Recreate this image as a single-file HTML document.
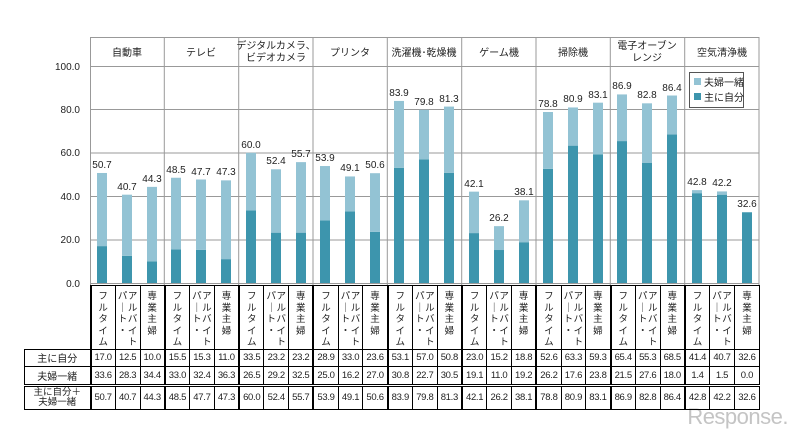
<!DOCTYPE html>
<html><head><meta charset="utf-8"><style>
body{margin:0;width:800px;height:437px;background:#fff;position:relative;overflow:hidden;font-family:"Liberation Sans","Noto Sans CJK JP",sans-serif;color:#222}
svg{position:absolute;left:0;top:0}
svg text{font-family:"Liberation Sans","Noto Sans CJK JP",sans-serif}
table{position:absolute;left:24px;top:285px;border-collapse:collapse;table-layout:fixed;width:736px;font-size:9.5px}
td{border:1px solid #000;text-align:center;padding:0;letter-spacing:-0.3px}
td.e{border:none}
tr.hd td{height:60px;vertical-align:top}
tr.r1 td{height:16px}
tr.r2 td{height:17px}
tr.r3 td{height:22px;border-top:3px double #000;line-height:10px}
td.g{border-left:2px solid #000}
.v{display:inline-block;vertical-align:top;font-size:9.5px;line-height:11.5px;margin-top:5px;width:10px;text-align:center;letter-spacing:0}
td.l{font-size:10px;letter-spacing:0}
tr.r3 td.l{font-size:9.5px}
</style></head><body>
<svg width="800" height="437">
<g stroke="#999" stroke-width="1">
<line x1="90" y1="66.5" x2="759" y2="66.5"/>
<line x1="90" y1="109.5" x2="759" y2="109.5"/>
<line x1="90" y1="153" x2="759" y2="153"/>
<line x1="90" y1="196.5" x2="759" y2="196.5"/>
<line x1="90" y1="240" x2="759" y2="240"/>
<line x1="90" y1="37.5" x2="759" y2="37.5"/>
<line x1="90" y1="283.5" x2="759" y2="283.5"/>
<line x1="90.5" y1="37" x2="90.5" y2="285"/>
<line x1="759" y1="37" x2="759" y2="285"/>
<line x1="164.3" y1="37" x2="164.3" y2="285"/>
<line x1="238.7" y1="37" x2="238.7" y2="285"/>
<line x1="313" y1="37" x2="313" y2="285"/>
<line x1="387.3" y1="37" x2="387.3" y2="285"/>
<line x1="461.7" y1="37" x2="461.7" y2="285"/>
<line x1="536" y1="37" x2="536" y2="285"/>
<line x1="610.3" y1="37" x2="610.3" y2="285"/>
<line x1="684.7" y1="37" x2="684.7" y2="285"/>
</g>
<g font-size="10" text-anchor="end" fill="#222">
<text x="80" y="70">100.0</text><text x="80" y="113">80.0</text><text x="80" y="156">60.0</text>
<text x="80" y="200">40.0</text><text x="80" y="243">20.0</text><text x="80" y="287">0.0</text>
</g>
<g font-size="10" text-anchor="middle" fill="#222">
<text x="127" y="56">自動車</text>
<text x="201" y="56">テレビ</text>
<text x="276" y="49">デジタルカメラ、</text><text x="276" y="61">ビデオカメラ</text>
<text x="350" y="56">プリンタ</text>
<text x="424" y="56">洗濯機･乾燥機</text>
<text x="499" y="56">ゲーム機</text>
<text x="573" y="56">掃除機</text>
<text x="647" y="49">電子オーブン</text><text x="647" y="61">レンジ</text>
<text x="722" y="56">空気清浄機</text>
</g>
<g transform="translate(0,283) scale(1,-2.17)">
<g fill="#3d95ad">
<rect x="97" y="0" width="10" height="17.0"/><rect x="122" y="0" width="10" height="12.5"/><rect x="147" y="0" width="10" height="10.0"/>
<rect x="171" y="0" width="10" height="15.5"/><rect x="196" y="0" width="10" height="15.3"/><rect x="221" y="0" width="10" height="11.0"/>
<rect x="246" y="0" width="10" height="33.5"/><rect x="271" y="0" width="10" height="23.2"/><rect x="296" y="0" width="10" height="23.2"/>
<rect x="320" y="0" width="10" height="28.9"/><rect x="345" y="0" width="10" height="33.0"/><rect x="370" y="0" width="10" height="23.6"/>
<rect x="394" y="0" width="10" height="53.1"/><rect x="419" y="0" width="10" height="57.0"/><rect x="444" y="0" width="10" height="50.8"/>
<rect x="469" y="0" width="10" height="23.0"/><rect x="494" y="0" width="10" height="15.2"/><rect x="519" y="0" width="10" height="18.8"/>
<rect x="543" y="0" width="10" height="52.6"/><rect x="568" y="0" width="10" height="63.3"/><rect x="593" y="0" width="10" height="59.3"/>
<rect x="617" y="0" width="10" height="65.4"/><rect x="642" y="0" width="10" height="55.3"/><rect x="667" y="0" width="10" height="68.5"/>
<rect x="692" y="0" width="10" height="41.4"/><rect x="717" y="0" width="10" height="40.7"/><rect x="742" y="0" width="10" height="32.6"/>
</g>
<g fill="#93c3d4">
<rect x="97" y="17.0" width="10" height="33.7"/><rect x="122" y="12.5" width="10" height="28.2"/><rect x="147" y="10.0" width="10" height="34.3"/>
<rect x="171" y="15.5" width="10" height="33.0"/><rect x="196" y="15.3" width="10" height="32.4"/><rect x="221" y="11.0" width="10" height="36.3"/>
<rect x="246" y="33.5" width="10" height="26.5"/><rect x="271" y="23.2" width="10" height="29.2"/><rect x="296" y="23.2" width="10" height="32.5"/>
<rect x="320" y="28.9" width="10" height="25.0"/><rect x="345" y="33.0" width="10" height="16.1"/><rect x="370" y="23.6" width="10" height="27.0"/>
<rect x="394" y="53.1" width="10" height="30.8"/><rect x="419" y="57.0" width="10" height="22.8"/><rect x="444" y="50.8" width="10" height="30.5"/>
<rect x="469" y="23.0" width="10" height="19.1"/><rect x="494" y="15.2" width="10" height="11.0"/><rect x="519" y="18.8" width="10" height="19.3"/>
<rect x="543" y="52.6" width="10" height="26.2"/><rect x="568" y="63.3" width="10" height="17.6"/><rect x="593" y="59.3" width="10" height="23.8"/>
<rect x="617" y="65.4" width="10" height="21.5"/><rect x="642" y="55.3" width="10" height="27.5"/><rect x="667" y="68.5" width="10" height="17.9"/>
<rect x="692" y="41.4" width="10" height="1.4"/><rect x="717" y="40.7" width="10" height="1.5"/>
</g>
</g>
<g font-size="10" text-anchor="middle" fill="#222">
<text x="102" y="168">50.7</text><text x="127" y="190">40.7</text><text x="152" y="182">44.3</text>
<text x="176" y="173">48.5</text><text x="201" y="175">47.7</text><text x="226" y="175">47.3</text>
<text x="251" y="148">60.0</text><text x="276" y="164">52.4</text><text x="301" y="157">55.7</text>
<text x="325" y="161">53.9</text><text x="350" y="171">49.1</text><text x="375" y="168">50.6</text>
<text x="399" y="96">83.9</text><text x="424" y="105">79.8</text><text x="449" y="102">81.3</text>
<text x="474" y="187">42.1</text><text x="499" y="221">26.2</text><text x="524" y="195">38.1</text>
<text x="548" y="107">78.8</text><text x="573" y="102">80.9</text><text x="598" y="98">83.1</text>
<text x="622" y="89">86.9</text><text x="647" y="98">82.8</text><text x="672" y="91">86.4</text>
<text x="697" y="185">42.8</text><text x="722" y="186">42.2</text><text x="747" y="207">32.6</text>
</g>
<rect x="689.5" y="72.5" width="54" height="35" fill="#fff" stroke="#555" stroke-width="1"/>
<rect x="694" y="78" width="7" height="7" fill="#93c3d4"/>
<rect x="694" y="93" width="7" height="7" fill="#3d95ad"/>
<text x="704" y="86" font-size="10" fill="#222">夫婦一緒</text>
<text x="704" y="101" font-size="10" fill="#222">主に自分</text>
<text x="788" y="424" font-size="22" fill="#c4c4c4" text-anchor="end" letter-spacing="-0.5">Response.</text>
</svg>
<table>
<colgroup><col style="width:66px"><col span="27"></colgroup>
<tr class="hd"><td class="e"></td>
<td class="g"><span class="v">フ<br>ル<br>タ<br>イ<br>ム</span></td><td><span class="v">パ<br>｜<br>ト<br>・</span><span class="v">ア<br>ル<br>バ<br>イ<br>ト</span></td><td><span class="v">専<br>業<br>主<br>婦</span></td>
<td class="g"><span class="v">フ<br>ル<br>タ<br>イ<br>ム</span></td><td><span class="v">パ<br>｜<br>ト<br>・</span><span class="v">ア<br>ル<br>バ<br>イ<br>ト</span></td><td><span class="v">専<br>業<br>主<br>婦</span></td>
<td class="g"><span class="v">フ<br>ル<br>タ<br>イ<br>ム</span></td><td><span class="v">パ<br>｜<br>ト<br>・</span><span class="v">ア<br>ル<br>バ<br>イ<br>ト</span></td><td><span class="v">専<br>業<br>主<br>婦</span></td>
<td class="g"><span class="v">フ<br>ル<br>タ<br>イ<br>ム</span></td><td><span class="v">パ<br>｜<br>ト<br>・</span><span class="v">ア<br>ル<br>バ<br>イ<br>ト</span></td><td><span class="v">専<br>業<br>主<br>婦</span></td>
<td class="g"><span class="v">フ<br>ル<br>タ<br>イ<br>ム</span></td><td><span class="v">パ<br>｜<br>ト<br>・</span><span class="v">ア<br>ル<br>バ<br>イ<br>ト</span></td><td><span class="v">専<br>業<br>主<br>婦</span></td>
<td class="g"><span class="v">フ<br>ル<br>タ<br>イ<br>ム</span></td><td><span class="v">パ<br>｜<br>ト<br>・</span><span class="v">ア<br>ル<br>バ<br>イ<br>ト</span></td><td><span class="v">専<br>業<br>主<br>婦</span></td>
<td class="g"><span class="v">フ<br>ル<br>タ<br>イ<br>ム</span></td><td><span class="v">パ<br>｜<br>ト<br>・</span><span class="v">ア<br>ル<br>バ<br>イ<br>ト</span></td><td><span class="v">専<br>業<br>主<br>婦</span></td>
<td class="g"><span class="v">フ<br>ル<br>タ<br>イ<br>ム</span></td><td><span class="v">パ<br>｜<br>ト<br>・</span><span class="v">ア<br>ル<br>バ<br>イ<br>ト</span></td><td><span class="v">専<br>業<br>主<br>婦</span></td>
<td class="g"><span class="v">フ<br>ル<br>タ<br>イ<br>ム</span></td><td><span class="v">パ<br>｜<br>ト<br>・</span><span class="v">ア<br>ル<br>バ<br>イ<br>ト</span></td><td><span class="v">専<br>業<br>主<br>婦</span></td>
</tr>
<tr class="r1"><td class="l">主に自分</td>
<td class="g">17.0</td><td>12.5</td><td>10.0</td><td class="g">15.5</td><td>15.3</td><td>11.0</td><td class="g">33.5</td><td>23.2</td><td>23.2</td>
<td class="g">28.9</td><td>33.0</td><td>23.6</td><td class="g">53.1</td><td>57.0</td><td>50.8</td><td class="g">23.0</td><td>15.2</td><td>18.8</td>
<td class="g">52.6</td><td>63.3</td><td>59.3</td><td class="g">65.4</td><td>55.3</td><td>68.5</td><td class="g">41.4</td><td>40.7</td><td>32.6</td></tr>
<tr class="r2"><td class="l">夫婦一緒</td>
<td class="g">33.6</td><td>28.3</td><td>34.4</td><td class="g">33.0</td><td>32.4</td><td>36.3</td><td class="g">26.5</td><td>29.2</td><td>32.5</td>
<td class="g">25.0</td><td>16.2</td><td>27.0</td><td class="g">30.8</td><td>22.7</td><td>30.5</td><td class="g">19.1</td><td>11.0</td><td>19.2</td>
<td class="g">26.2</td><td>17.6</td><td>23.8</td><td class="g">21.5</td><td>27.6</td><td>18.0</td><td class="g">1.4</td><td>1.5</td><td>0.0</td></tr>
<tr class="r3"><td class="l">主に自分＋<br>夫婦一緒</td>
<td class="g">50.7</td><td>40.7</td><td>44.3</td><td class="g">48.5</td><td>47.7</td><td>47.3</td><td class="g">60.0</td><td>52.4</td><td>55.7</td>
<td class="g">53.9</td><td>49.1</td><td>50.6</td><td class="g">83.9</td><td>79.8</td><td>81.3</td><td class="g">42.1</td><td>26.2</td><td>38.1</td>
<td class="g">78.8</td><td>80.9</td><td>83.1</td><td class="g">86.9</td><td>82.8</td><td>86.4</td><td class="g">42.8</td><td>42.2</td><td>32.6</td></tr>
</table>
</body></html>
